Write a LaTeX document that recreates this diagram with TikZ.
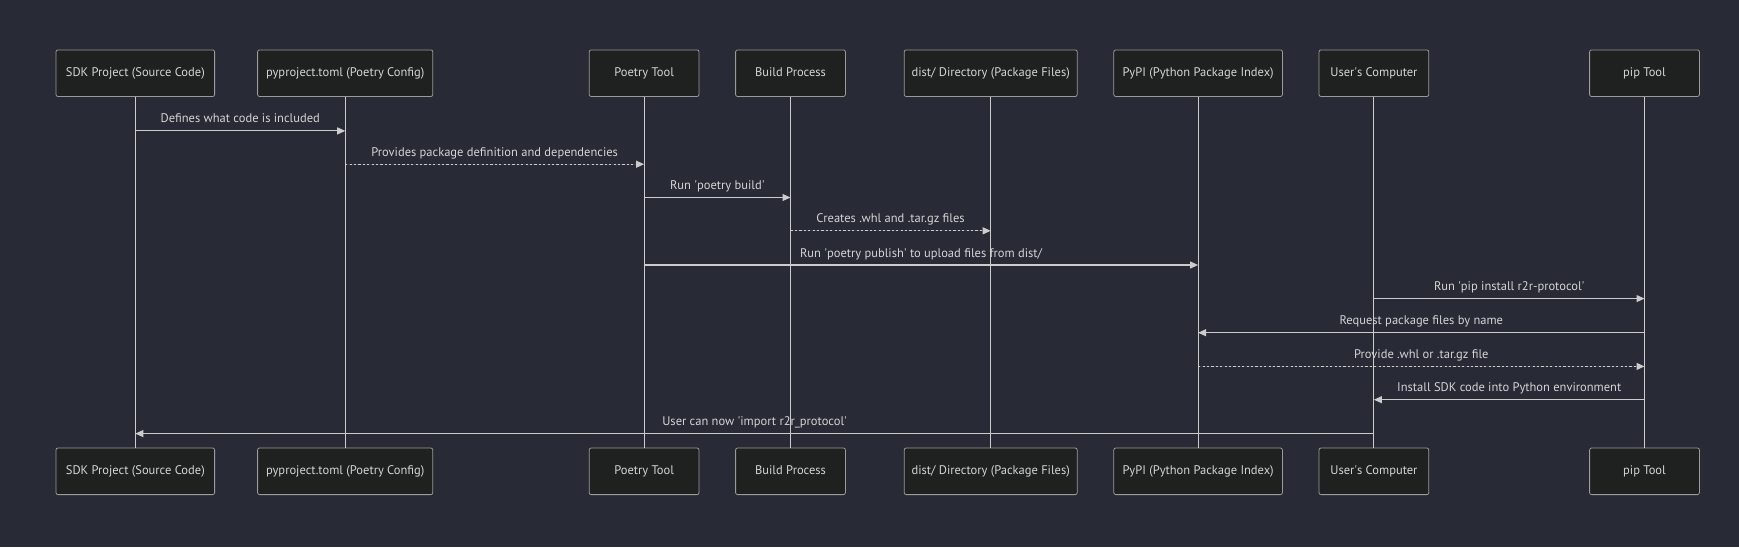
\documentclass[tikz,border=0pt]{standalone}
\usepackage{fontspec}
\setmainfont{PT Sans}
\usetikzlibrary{positioning,arrows.meta}
\definecolor{bgcol}{HTML}{282A36}
\definecolor{boxfill}{HTML}{1F2020}
\definecolor{boxline}{HTML}{9A9A9A}
\definecolor{linecol}{HTML}{CCCCCC}
\definecolor{txt}{HTML}{D4D4D4}
\newcommand{\sq}{\textquotesingle}

\begin{document}
\begin{tikzpicture}[x=1pt, y=1pt, >={Triangle[length=8pt,width=7pt]}, node distance=36.6pt,
    actor/.style={draw=boxline, fill=boxfill, rounded corners=2pt, line width=0.8pt,
        minimum height=46.6pt, minimum width=109.8pt, inner sep=0pt, outer sep=0pt,
        text height=9pt, text depth=3pt,
        text=txt, font=\fontsize{12.5}{14}\selectfont},
    life/.style={draw=linecol, line width=1pt},
    msg/.style={->, draw=linecol, fill=linecol, line width=1.1pt},
    reply/.style={msg, dash pattern=on 2.2pt off 2.2pt},
    lbl/.style={text=txt, font=\fontsize{12.5}{14}\selectfont, text height=9pt, text depth=3pt, yshift=11pt}]
    \fill[bgcol] (0,0) rectangle (1739,-547);
    \useasboundingbox (0,0) rectangle (1739,-547);

    % participants, top row
    \node [actor, minimum width=158.6pt] (sdk) at (135.3,-73.2) {SDK Project (Source Code)};
    \node [actor, minimum width=175.2pt, right=43pt of sdk] (pyproj) {pyproject.toml (Poetry Config)};
    \node [actor, right=156.4pt of pyproj] (poetry) {Poetry Tool};
    \node [actor, right=of poetry] (build) {Build Process};
    \node [actor, minimum width=173pt, right=58.8pt of build] (dist) {dist/ Directory (Package Files)};
    \node [actor, minimum width=168.6pt, right=of dist] (pypi) {PyPI (Python Package Index)};
    \node [actor, right=of pypi] (user) {User\sq s Computer};
    \node [actor, right=160.8pt of user] (pip) {pip Tool};

    % participants, bottom row
    \node [actor, minimum width=158.6pt, below=351.5pt of sdk] (sdkB) {SDK Project (Source Code)};
    \node [actor, minimum width=175.2pt, below=351.5pt of pyproj] (pyprojB) {pyproject.toml (Poetry Config)};
    \node [actor, below=351.5pt of poetry] (poetryB) {Poetry Tool};
    \node [actor, below=351.5pt of build] (buildB) {Build Process};
    \node [actor, minimum width=173pt, below=351.5pt of dist] (distB) {dist/ Directory (Package Files)};
    \node [actor, minimum width=168.6pt, below=351.5pt of pypi] (pypiB) {PyPI (Python Package Index)};
    \node [actor, below=351.5pt of user] (userB) {User\sq s Computer};
    \node [actor, below=351.5pt of pip] (pipB) {pip Tool};

    % lifelines
    \draw [life] (sdk) -- (sdkB);
    \draw [life] (pyproj) -- (pyprojB);
    \draw [life] (poetry) -- (poetryB);
    \draw [life] (build) -- (buildB);
    \draw [life] (dist) -- (distB);
    \draw [life] (pypi) -- (pypiB);
    \draw [life] (user) -- (userB);
    \draw [life] (pip) -- (pipB);

    % messages
    \draw [msg] (sdk |- 0,-130.9) -- (pyproj |- 0,-130.9) node [lbl, midway] {Defines what code is included};
    \draw [reply] (pyproj |- 0,-164.2) -- (poetry |- 0,-164.2) node [lbl, midway] {Provides package definition and dependencies};
    \draw [msg] (poetry |- 0,-197.5) -- (build |- 0,-197.5) node [lbl, midway] {Run \sq poetry build\sq};
    \draw [reply] (build |- 0,-230.8) -- (dist |- 0,-230.8) node [lbl, midway] {Creates .whl and .tar.gz files};
    \draw [msg] (poetry |- 0,-265) -- (pypi |- 0,-265) node [lbl, midway] {Run \sq poetry publish\sq{} to upload files from dist/};
    \draw [msg] (user |- 0,-298.6) -- (pip |- 0,-298.6) node [lbl, midway] {Run \sq pip install r2r-protocol\sq};
    \draw [msg] (pip |- 0,-332.7) -- (pypi |- 0,-332.7) node [lbl, midway] {Request package files by name};
    \draw [reply] (pypi |- 0,-366.4) -- (pip |- 0,-366.4) node [lbl, midway] {Provide .whl or .tar.gz file};
    \draw [msg] (pip |- 0,-399.7) -- (user |- 0,-399.7) node [lbl, midway] {Install SDK code into Python environment};
    \draw [msg] (user |- 0,-433.6) -- (sdk |- 0,-433.6) node [lbl, midway] {User can now \sq import r2r\_protocol\sq};
\end{tikzpicture}
\end{document}
